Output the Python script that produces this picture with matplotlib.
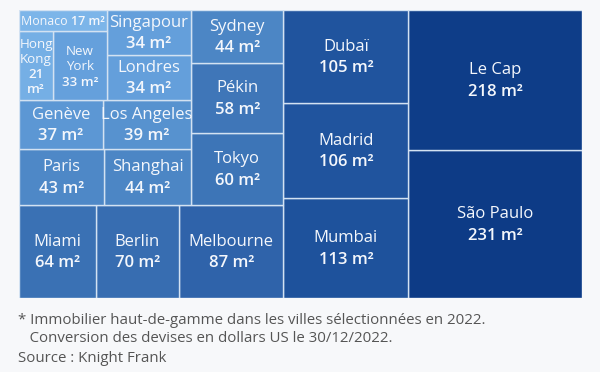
import matplotlib
matplotlib.use('Agg')
import matplotlib.pyplot as plt
from matplotlib.patches import Rectangle
from matplotlib.colors import LinearSegmentedColormap
import numpy as np

# ---------------- data ----------------
cities = ['São Paulo', 'Le Cap', 'Mumbai', 'Madrid', 'Dubaï', 'Melbourne', 'Berlin',
          'Miami', 'Tokyo', 'Pékin', 'Sydney', 'Shanghai', 'Paris', 'Los Angeles',
          'Genève', 'Londres', 'Singapour', 'New York', 'Hong Kong', 'Monaco']
areas = [231, 218, 113, 106, 105, 87, 70, 64, 60, 58, 44, 44, 43, 39, 37, 34, 34, 33, 21, 17]
unit = 'm²'
footnote = ['* Immobilier haut-de-gamme dans les villes sélectionnées en 2022.',
            '   Conversion des devises en dollars US le 30/12/2022.']
source = 'Source : Knight Frank'

# ---------------- layout (squarified-like strips) ----------------
# (number of cells in strip, side where strip is taken)
groups = [(2, 'right'), (3, 'right'), (3, 'bottom'), (3, 'right'), (2, 'bottom'),
          (2, 'bottom'), (2, 'right'), (2, 'bottom'), (1, 'bottom')]

W, H = 562.7, 288.0          # axes size in pixels (dpi 100)


def strip_layout(vals, groups, x0, y0, x1, y1):
    # y axis points down (y1 is bottom)
    rects = []
    remaining = float(sum(vals))
    k = 0
    for n, side in groups:
        idx = list(range(k, k + n))
        s = float(sum(vals[i] for i in idx))
        if side == 'right':
            w = (x1 - x0) * s / remaining
            yb = y1
            for i in idx:
                h = (y1 - y0) * vals[i] / s
                rects.append((x1 - w, yb - h, w, h))
                yb -= h
            x1 -= w
        else:
            h = (y1 - y0) * s / remaining
            xr = x1
            for i in idx:
                w = (x1 - x0) * vals[i] / s
                rects.append((xr - w, y1 - h, w, h))
                xr -= w
            y1 -= h
        remaining -= s
        k += n
    return rects


rects = strip_layout(areas, groups, 0, 0, W, H)

# ---------------- colours ----------------
anchor_vals = [17, 34, 44, 64, 87, 105, 231]
anchor_cols = ['#7cb5e9', '#649fdb', '#4c86c5', '#3a71b4', '#2f63aa', '#20549e', '#0d3b86']
lo, hi = np.log(anchor_vals[0]), np.log(anchor_vals[-1])
cmap = LinearSegmentedColormap.from_list(
    'blues', [((np.log(v) - lo) / (hi - lo), c) for v, c in zip(anchor_vals, anchor_cols)])

plt.rcParams['font.family'] = ['Open Sans', 'DejaVu Sans']

fig = plt.figure(figsize=(6.0, 3.72), dpi=100)
fig.patch.set_facecolor('#f7f8fa')
ax = fig.add_axes([19 / 600, (372 - 298) / 372, W / 600, H / 372])
ax.set_xlim(0, W)
ax.set_ylim(H, 0)
ax.axis('off')

TXT = '#f4f7fc'
small = {'Hong Kong': (9.6, 15.0), 'New York': (9.6, 15.5)}

for name, val, (x, y, w, h) in zip(cities, areas, rects):
    t = (np.log(val) - lo) / (hi - lo)
    ax.add_patch(Rectangle((x, y), w, h, facecolor=cmap(t), edgecolor='#d3e2f2', lw=1.0))
    cx, cy = x + w / 2, y + h / 2
    vtxt = f'{val} {unit}'
    if name in small:
        fs, L = small[name]
        nl = name.split(' ')
        vl = [str(val), unit] if name == 'Hong Kong' else [vtxt]
        lines = [(s, 'normal') for s in nl] + [(s, 'semibold') for s in vl]
        N = len(lines)
        for j, (s, wt) in enumerate(lines):
            ax.text(cx, cy - (N - 1) / 2 * L + j * L + 1, s, ha='center', va='center',
                    color=TXT, fontsize=fs, fontweight=wt)
    elif name == 'Monaco':
        t1 = ax.text(cx, cy + 1, name + ' ', ha='right', va='center', color=TXT,
                     fontsize=8.9)
        t2 = ax.text(cx, cy + 1, vtxt, ha='left', va='center', color=TXT,
                     fontsize=8.9, fontweight='semibold')
        r = fig.canvas.get_renderer()
        w1 = t1.get_window_extent(r).width
        w2 = t2.get_window_extent(r).width
        shift = (w1 - w2) / 2
        t1.set_x(cx + shift)
        t2.set_x(cx + shift)
    else:
        fs = 12
        L = 21.5
        ax.text(cx, cy - L / 2 + 1, name, ha='center', va='center', color=TXT, fontsize=fs)
        ax.text(cx, cy + L / 2 + 1, vtxt, ha='center', va='center', color=TXT,
                fontsize=fs, fontweight='semibold')

FC = '#555555'
fig.text(18 / 600, 1 - 321 / 372, footnote[0], ha='left', va='center', fontsize=10.8, color=FC)
fig.text(18 / 600, 1 - 338 / 372, footnote[1], ha='left', va='center', fontsize=10.8, color=FC)
fig.text(18 / 600, 1 - 358 / 372, source, ha='left', va='center', fontsize=10.8, color=FC)

fig.savefig('out.png', dpi=100, facecolor=fig.get_facecolor())
